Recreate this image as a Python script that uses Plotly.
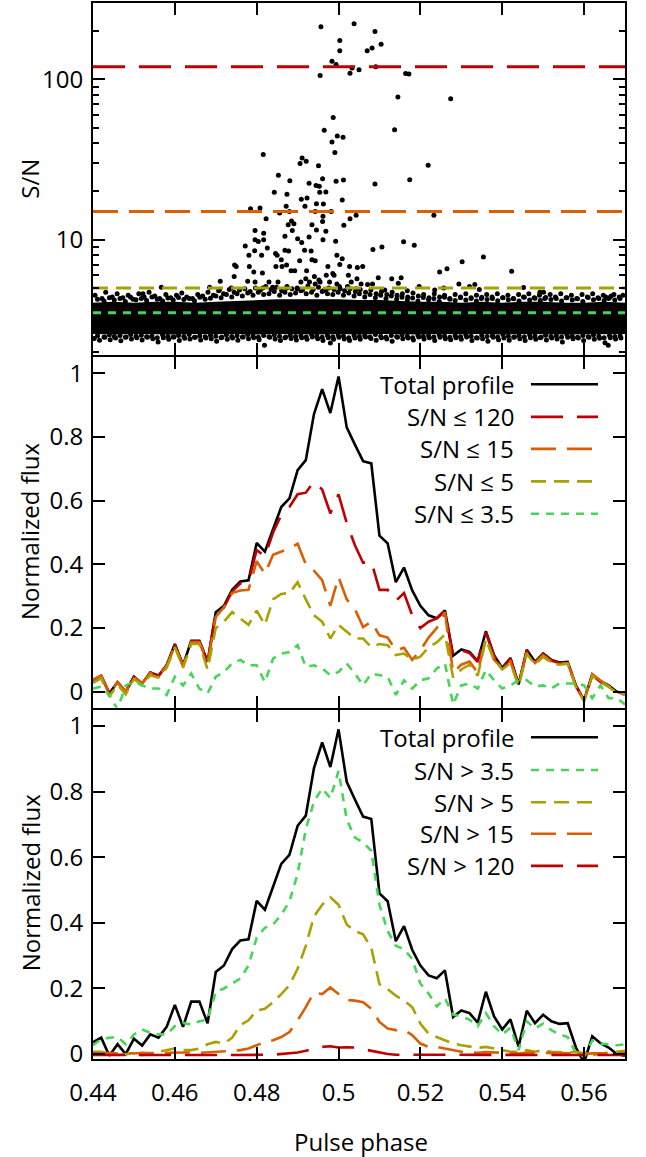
import math
import plotly.graph_objects as go

# ---------------- data ----------------
phase = [0.44, 0.442, 0.444, 0.446, 0.448, 0.45, 0.452, 0.454, 0.456, 0.458,
         0.46, 0.462, 0.464, 0.466, 0.468, 0.47, 0.472, 0.474, 0.476, 0.478,
         0.48, 0.482, 0.484, 0.486, 0.488, 0.49, 0.492, 0.494, 0.496, 0.498,
         0.5, 0.502, 0.504, 0.506, 0.508, 0.51, 0.512, 0.514, 0.516, 0.518,
         0.52, 0.522, 0.524, 0.526, 0.528, 0.53, 0.532, 0.534, 0.536, 0.538,
         0.54, 0.542, 0.544, 0.546, 0.548, 0.55, 0.552, 0.554, 0.556, 0.558,
         0.56, 0.562, 0.564, 0.566, 0.568, 0.57]

total_profile = [0.036, 0.05, -0.005, 0.03, 0.0, 0.047, 0.026, 0.06, 0.05, 0.083,
                 0.15, 0.083, 0.16, 0.16, 0.094, 0.25, 0.27, 0.32, 0.346, 0.35,
                 0.467, 0.44, 0.51, 0.58, 0.607, 0.696, 0.727, 0.872, 0.95, 0.875,
                 0.99, 0.83, 0.776, 0.724, 0.717, 0.49, 0.466, 0.344, 0.39, 0.318,
                 0.27, 0.24, 0.231, 0.255, 0.113, 0.133, 0.125, 0.096, 0.19, 0.115,
                 0.075, 0.106, 0.023, 0.132, 0.094, 0.12, 0.1, 0.092, 0.094, 0.02,
                 -0.026, 0.054, 0.033, 0.02, 0.0, -0.005]

sn_le_120 = [0.036, 0.05, -0.005, 0.03, 0.0, 0.047, 0.026, 0.06, 0.05, 0.083,
             0.148, 0.083, 0.158, 0.158, 0.094, 0.245, 0.265, 0.315, 0.34, 0.345,
             0.445, 0.425, 0.5, 0.555, 0.58, 0.62, 0.625, 0.66, 0.635, 0.56,
             0.62, 0.53, 0.46, 0.405, 0.41, 0.32, 0.32, 0.285, 0.31, 0.24,
             0.2, 0.22, 0.23, 0.255, 0.11, 0.13, 0.122, 0.094, 0.186, 0.112,
             0.072, 0.104, 0.02, 0.13, 0.092, 0.118, 0.098, 0.09, 0.092, 0.018,
             -0.028, 0.052, 0.031, 0.018, -0.002, -0.007]

sn_le_15 = [0.038, 0.05, -0.005, 0.03, 0.0, 0.045, 0.026, 0.058, 0.05, 0.08,
            0.145, 0.08, 0.155, 0.155, 0.092, 0.235, 0.265, 0.31, 0.318, 0.32,
            0.41, 0.37, 0.43, 0.44, 0.45, 0.465, 0.4, 0.38, 0.35, 0.27,
            0.36, 0.29, 0.26, 0.203, 0.22, 0.177, 0.17, 0.13, 0.138, 0.1,
            0.13, 0.17, 0.2, 0.25, 0.06, 0.085, 0.095, 0.06, 0.17, 0.1,
            0.075, 0.095, 0.02, 0.125, 0.09, 0.115, 0.095, 0.088, 0.09, 0.018,
            -0.028, 0.055, 0.035, 0.018, 0.0, -0.008]

sn_le_5 = [0.028, 0.042, -0.015, 0.022, -0.008, 0.04, 0.02, 0.052, 0.045, 0.075,
           0.14, 0.075, 0.15, 0.15, 0.07, 0.2, 0.22, 0.25, 0.23, 0.21,
           0.255, 0.21, 0.29, 0.307, 0.31, 0.344, 0.29, 0.24, 0.22, 0.167,
           0.21, 0.19, 0.167, 0.167, 0.14, 0.15, 0.146, 0.115, 0.12, 0.1,
           0.11, 0.14, 0.155, 0.18, 0.045, 0.07, 0.085, 0.05, 0.165, 0.1,
           0.07, 0.09, 0.018, 0.12, 0.085, 0.11, 0.09, 0.085, 0.088, 0.015,
           -0.03, 0.05, 0.03, 0.015, -0.003, -0.01]

sn_le_3p5 = [0.01, 0.016, -0.01, -0.055, 0.02, 0.03, 0.02, 0.01, 0.01, -0.01,
             0.047, 0.02, 0.057, 0.01, -0.005, 0.047, 0.062, 0.089, 0.1, 0.083,
             0.083, 0.03, 0.104, 0.12, 0.125, 0.146, 0.078, 0.083, 0.073, 0.052,
             0.062, 0.089, 0.057, 0.02, 0.057, 0.052, 0.047, -0.01, 0.036, 0.01,
             0.036, 0.042, 0.073, 0.089, -0.04, 0.02, 0.026, 0.01, 0.068, 0.036,
             0.01, 0.02, 0.036, 0.036, 0.016, 0.02, 0.01, 0.026, 0.026, 0.026,
             0.02, -0.02, 0.02, -0.02, -0.02, -0.04]

sn_gt_3p5 = [0.027, 0.045, 0.05, 0.052, 0.03, 0.06, 0.075, 0.065, 0.06, 0.06,
             0.085, 0.095, 0.09, 0.1, 0.105, 0.19, 0.2, 0.215, 0.23, 0.27,
             0.355, 0.385, 0.395, 0.425, 0.465, 0.55, 0.685, 0.77, 0.81, 0.78,
             0.863, 0.715, 0.66, 0.645, 0.62, 0.455, 0.375, 0.33, 0.32, 0.29,
             0.215, 0.185, 0.145, 0.17, 0.12, 0.115, 0.105, 0.085, 0.125, 0.085,
             0.06, 0.08, 0.012, 0.1, 0.078, 0.093, 0.073, 0.06, 0.052, 0.002,
             -0.008, 0.042, 0.032, 0.03, 0.027, 0.03]

sn_gt_5 = [0.007, 0.007, 0.0, -0.003, 0.0, 0.002, -0.003, 0.002, 0.005, 0.012,
           0.017, 0.012, 0.012, 0.017, 0.03, 0.037, 0.032, 0.05, 0.088, 0.103,
           0.133, 0.138, 0.158, 0.183, 0.21, 0.26, 0.33, 0.42, 0.455, 0.478,
           0.455, 0.395, 0.375, 0.365, 0.324, 0.213, 0.198, 0.178, 0.163, 0.143,
           0.093, 0.062, 0.052, 0.042, 0.032, 0.027, 0.022, 0.019, 0.022, 0.017,
           0.012, 0.007, 0.007, 0.012, 0.007, 0.012, 0.007, 0.005, 0.005, 0.007,
           0.002, -0.003, 0.0, 0.005, 0.007, 0.01]

sn_gt_15 = [0.003, 0.002, 0.004, 0.002, 0.003, 0.002, 0.004, 0.003, 0.002, 0.004,
            0.005, 0.004, 0.005, 0.004, 0.005, 0.006, 0.008, 0.01, 0.012, 0.017,
            0.027, 0.037, 0.042, 0.052, 0.067, 0.103, 0.143, 0.188, 0.183, 0.203,
            0.183, 0.165, 0.163, 0.158, 0.138, 0.098, 0.078, 0.073, 0.073, 0.058,
            0.032, 0.022, 0.022, 0.017, 0.012, 0.007, 0.005, 0.004, 0.006, 0.005,
            0.003, 0.004, 0.002, 0.005, 0.004, 0.003, 0.004, 0.003, 0.002, 0.002,
            0.0, 0.002, 0.003, 0.004, 0.003, 0.003]

sn_gt_120 = [-0.003, -0.002, -0.003, -0.003, -0.002, -0.003, -0.003, -0.002, -0.003, -0.003,
             -0.002, -0.003, -0.003, -0.002, -0.003, -0.003, -0.002, -0.003, -0.003, -0.002,
             -0.003, -0.002, -0.002, 0.0, 0.002, 0.005, 0.01, 0.015, 0.022, 0.024,
             0.02, 0.021, 0.02, 0.015, 0.01, 0.005, 0.0, -0.002, -0.002, -0.003,
             -0.002, -0.003, -0.002, -0.002, -0.003, -0.002, -0.002, -0.003, -0.002, -0.002,
             -0.003, -0.002, -0.002, -0.003, -0.002, -0.002, -0.003, -0.002, -0.002, -0.003,
             -0.002, -0.002, -0.003, -0.002, -0.002, -0.003]

thresholds = [120, 15, 5, 3.5]

# dense single-pulse band (solid core of the scatter), envelope
band_phase = [0.44, 0.445, 0.45, 0.455, 0.46, 0.465, 0.47, 0.475, 0.48, 0.485,
              0.49, 0.495, 0.5, 0.505, 0.51, 0.515, 0.52, 0.525, 0.53, 0.535,
              0.54, 0.545, 0.55, 0.555, 0.56, 0.565, 0.57]
band_upper = [4.05, 4.1, 4.05, 4.1, 4.1, 4.05, 4.1, 4.15, 4.2, 4.25,
              4.25, 4.25, 4.25, 4.2, 4.2, 4.15, 4.1, 4.1, 4.05, 4.1,
              4.05, 4.1, 4.1, 4.05, 4.05, 4.1, 4.05]
band_lower = [2.58, 2.56, 2.58, 2.57, 2.56, 2.58, 2.57, 2.58, 2.56, 2.58,
              2.57, 2.56, 2.58, 2.56, 2.58, 2.57, 2.56, 2.58, 2.57, 2.58,
              2.56, 2.58, 2.57, 2.56, 2.58, 2.57, 2.58]

# single pulses along the ragged upper edge of the band (inner row)
upper_inner_phase = [0.4411, 0.4427, 0.444, 0.4452, 0.4466, 0.4479, 0.4492, 0.4505, 0.4518, 0.4531,
                     0.4544, 0.4557, 0.457, 0.4583, 0.4596, 0.4609, 0.4622, 0.4635, 0.4648, 0.4661,
                     0.4674, 0.4687, 0.47, 0.4713, 0.4726, 0.4739, 0.4752, 0.4765, 0.4778, 0.4791,
                     0.4804, 0.4817, 0.483, 0.4843, 0.4856, 0.4869, 0.4882, 0.4895, 0.4908, 0.4921,
                     0.4934, 0.4947, 0.496, 0.4973, 0.4986, 0.4999, 0.5012, 0.5025, 0.5038, 0.5051,
                     0.5064, 0.5077, 0.509, 0.5103, 0.5116, 0.5129, 0.5142, 0.5155, 0.5168, 0.5181,
                     0.5194, 0.5207, 0.522, 0.5233, 0.5246, 0.5259, 0.5272, 0.5285, 0.5298, 0.5311,
                     0.5324, 0.5337, 0.535, 0.5363, 0.5376, 0.5389, 0.5402, 0.5415, 0.5428, 0.5441,
                     0.5454, 0.5467, 0.548, 0.5493, 0.5506, 0.5519, 0.5532, 0.5545, 0.5558, 0.5571,
                     0.5584, 0.5597, 0.561, 0.5623, 0.5636, 0.5649, 0.5662, 0.5675, 0.5688]
upper_inner_sn = [4.25, 4.15, 4.35, 4.2, 4.3, 4.12, 4.38, 4.22, 4.3, 4.18,
                  4.4, 4.25, 4.15, 4.33, 4.2, 4.36, 4.24, 4.3, 4.16, 4.38,
                  4.26, 4.32, 4.45, 4.35, 4.55, 4.4, 4.6, 4.45, 4.65, 4.5,
                  4.7, 4.55, 4.6, 4.75, 4.5, 4.7, 4.55, 4.65, 4.8, 4.6,
                  4.7, 4.5, 4.75, 4.6, 4.55, 4.7, 4.5, 4.65, 4.45, 4.6,
                  4.4, 4.55, 4.35, 4.5, 4.3, 4.45, 4.25, 4.38, 4.2, 4.33,
                  4.15, 4.36, 4.22, 4.3, 4.12, 4.38, 4.25, 4.18, 4.34, 4.2,
                  4.3, 4.15, 4.37, 4.24, 4.3, 4.16, 4.35, 4.22, 4.28, 4.14,
                  4.38, 4.2, 4.32, 4.18, 4.36, 4.24, 4.3, 4.15, 4.35, 4.2,
                  4.28, 4.12, 4.36, 4.22, 4.3, 4.18, 4.34, 4.2, 4.3]

# single pulses at the outer upper fringe of the band
upper_fringe_phase = [0.4405, 0.4422, 0.4431, 0.4447, 0.4459, 0.4473, 0.4486, 0.4498, 0.4512, 0.4525,
                      0.4537, 0.4551, 0.4563, 0.4578, 0.459, 0.4604, 0.4617, 0.4629, 0.4643, 0.4656,
                      0.4668, 0.4681, 0.4694, 0.4707, 0.4719, 0.4733, 0.4745, 0.4758, 0.4771, 0.4784,
                      0.4797, 0.4809, 0.4822, 0.4835, 0.4848, 0.4861, 0.4874, 0.4886, 0.4899, 0.4912,
                      0.4925, 0.4938, 0.4951, 0.4963, 0.4976, 0.4989, 0.5002, 0.5015, 0.5028, 0.5041,
                      0.5053, 0.5066, 0.5079, 0.5092, 0.5105, 0.5118, 0.5131, 0.5143, 0.5156, 0.5169,
                      0.5182, 0.5195, 0.5208, 0.5221, 0.5234, 0.5247, 0.5259, 0.5272, 0.5285, 0.5298,
                      0.5311, 0.5324, 0.5337, 0.5349, 0.5362, 0.5375, 0.5388, 0.5401, 0.5414, 0.5427,
                      0.544, 0.5452, 0.5465, 0.5478, 0.5491, 0.5504, 0.5517, 0.553, 0.5543, 0.5556,
                      0.5569, 0.5582, 0.5595, 0.5608, 0.5621, 0.5634, 0.5647, 0.566, 0.5673, 0.5686,
                      0.5695]
upper_fringe_sn = [4.5, 4.3, 4.7, 4.4, 4.6, 4.35, 4.5, 4.25, 4.6, 4.4,
                   4.7, 4.45, 4.3, 4.55, 4.35, 4.5, 4.65, 4.4, 4.3, 4.55,
                   4.45, 4.7, 4.5, 4.8, 4.6, 4.9, 4.7, 4.85, 4.95, 4.75,
                   5.0, 4.85, 5.1, 4.9, 5.05, 4.8, 5.1, 4.95, 5.0, 4.85,
                   5.15, 4.9, 5.05, 4.8, 5.0, 4.9, 5.1, 4.8, 4.95, 4.75,
                   4.9, 4.7, 4.85, 4.6, 4.75, 4.55, 4.7, 4.5, 4.6, 4.4,
                   4.65, 4.45, 4.55, 4.35, 4.6, 4.4, 4.5, 4.3, 4.55, 4.4,
                   4.6, 4.35, 4.5, 4.3, 4.55, 4.4, 4.6, 4.35, 4.5, 4.3,
                   4.55, 4.4, 4.6, 4.35, 4.5, 4.3, 4.55, 4.4, 4.6, 4.35,
                   4.5, 4.3, 4.55, 4.4, 4.6, 4.35, 4.5, 4.3, 4.55, 4.4,
                   4.5]

# single pulses along the ragged lower edge of the band (inner row)
lower_inner_sn = [2.52, 2.47, 2.55, 2.49, 2.53, 2.46, 2.56, 2.5, 2.54, 2.48,
                  2.51, 2.45, 2.55, 2.5, 2.47, 2.53, 2.49, 2.56, 2.46, 2.52,
                  2.48, 2.54, 2.5, 2.45, 2.55, 2.49, 2.52, 2.47, 2.56, 2.51,
                  2.46, 2.53, 2.48, 2.55, 2.5, 2.45, 2.54, 2.49, 2.52, 2.47,
                  2.56, 2.5, 2.46, 2.53, 2.48, 2.55, 2.51, 2.45, 2.54, 2.49,
                  2.52, 2.47, 2.56, 2.5, 2.46, 2.53, 2.48, 2.55, 2.5, 2.45,
                  2.54, 2.49, 2.52, 2.47, 2.56, 2.51, 2.46, 2.53, 2.48, 2.55,
                  2.5, 2.45, 2.54, 2.49, 2.52, 2.47, 2.56, 2.5, 2.46, 2.53,
                  2.48, 2.55, 2.51, 2.45, 2.54, 2.49, 2.52, 2.47, 2.56, 2.5,
                  2.46, 2.53, 2.48, 2.55, 2.5, 2.45, 2.54, 2.49, 2.52]

# single pulses at the outer lower fringe of the band
lower_fringe_phase = [0.4403, 0.4416, 0.4429, 0.4442, 0.4455, 0.4468, 0.4481, 0.4494, 0.4507, 0.452,
                      0.4533, 0.4546, 0.4559, 0.4572, 0.4585, 0.4598, 0.4611, 0.4624, 0.4637, 0.465,
                      0.4663, 0.4676, 0.4689, 0.4702, 0.4715, 0.4728, 0.4741, 0.4754, 0.4767, 0.478,
                      0.4793, 0.4806, 0.4819, 0.4832, 0.4845, 0.4858, 0.4871, 0.4884, 0.4897, 0.491,
                      0.4923, 0.4936, 0.4949, 0.4962, 0.4975, 0.498, 0.4988, 0.5001, 0.5014, 0.5027,
                      0.504, 0.5053, 0.5066, 0.5079, 0.5092, 0.5105, 0.5118, 0.5131, 0.5144, 0.5157,
                      0.517, 0.5183, 0.5196, 0.5209, 0.5222, 0.5235, 0.5248, 0.5261, 0.5274, 0.5287,
                      0.53, 0.5313, 0.5326, 0.5339, 0.5352, 0.5365, 0.5378, 0.5391, 0.5404, 0.5417,
                      0.543, 0.5443, 0.5456, 0.5469, 0.5482, 0.5495, 0.5508, 0.5521, 0.5534, 0.5547,
                      0.556, 0.5573, 0.5586, 0.5599, 0.5612, 0.5625, 0.5638, 0.5651, 0.5659, 0.5664,
                      0.5677, 0.569]
lower_fringe_sn = [2.42, 2.36, 2.46, 2.38, 2.44, 2.34, 2.47, 2.4, 2.45, 2.37,
                   2.46, 2.41, 2.3, 2.45, 2.39, 2.47, 2.35, 2.43, 2.4, 2.46,
                   2.37, 2.44, 2.41, 2.33, 2.46, 2.39, 2.44, 2.36, 2.47, 2.41,
                   2.45, 2.38, 2.2, 2.46, 2.4, 2.35, 2.47, 2.42, 2.37, 2.45,
                   2.39, 2.47, 2.41, 2.35, 2.45, 2.27, 2.39, 2.46, 2.4, 2.35,
                   2.44, 2.39, 2.47, 2.42, 2.36, 2.45, 2.4, 2.33, 2.46, 2.41,
                   2.44, 2.37, 2.47, 2.4, 2.45, 2.35, 2.46, 2.41, 2.38, 2.45,
                   2.39, 2.47, 2.35, 2.44, 2.41, 2.33, 2.46, 2.38, 2.44, 2.36,
                   2.47, 2.41, 2.35, 2.45, 2.39, 2.46, 2.37, 2.44, 2.4, 2.3,
                   2.46, 2.41, 2.44, 2.35, 2.46, 2.39, 2.43, 2.28, 2.2, 2.45,
                   2.4, 2.44]

# bright single pulses above the band
pulse_phase = [0.4957, 0.5038, 0.5089, 0.5003, 0.5003, 0.507, 0.5082, 0.5104, 0.4984, 0.4994,
               0.5033, 0.505, 0.4955, 0.5028, 0.5091, 0.5164, 0.5172, 0.5145, 0.5274, 0.4987,
               0.4965, 0.4997, 0.5011, 0.4984, 0.4991, 0.5137, 0.4816, 0.4911, 0.4921, 0.4906,
               0.4951, 0.5219, 0.4853, 0.4881, 0.4961, 0.4994, 0.5012, 0.5174, 0.5089, 0.4928,
               0.4945, 0.4953, 0.4843, 0.4874, 0.4954, 0.4969, 0.4909, 0.4923, 0.5009, 0.4946,
               0.4963, 0.4872, 0.4918, 0.4785, 0.4808, 0.4856, 0.488, 0.4943, 0.4982, 0.5233,
               0.5043, 0.5028, 0.4823, 0.4962, 0.4961, 0.4885, 0.4877, 0.4891, 0.4935, 0.5013,
               0.4796, 0.4817, 0.4887, 0.4946, 0.4969, 0.49, 0.4928, 0.4869, 0.4962, 0.4993,
               0.4796, 0.4817, 0.4804, 0.5159, 0.5185, 0.4772, 0.4826, 0.4795, 0.4869, 0.491,
               0.4917, 0.4933, 0.5084, 0.5106, 0.4846, 0.4781, 0.4812, 0.485, 0.4878, 0.4905,
               0.4935, 0.4996, 0.5009, 0.486, 0.4943, 0.5354, 0.5302, 0.4746, 0.475, 0.4782,
               0.4847, 0.4862, 0.4873, 0.4884, 0.4893, 0.4922, 0.4974, 0.4986, 0.4989, 0.5003,
               0.5027, 0.5046, 0.5059, 0.5265, 0.5247, 0.5423, 0.4745, 0.4793, 0.4814, 0.4941,
               0.4952, 0.497, 0.5024, 0.5045, 0.5097, 0.513, 0.5153, 0.4711, 0.4778, 0.4796,
               0.483, 0.4852, 0.4908, 0.492, 0.4929, 0.4943, 0.4955, 0.4978, 0.4996, 0.5031,
               0.5055, 0.5071, 0.5146, 0.5294, 0.5333, 0.5452, 0.4567, 0.4685, 0.5197, 0.532,
               0.5344, 0.4522, 0.5083, 0.4709, 0.4738, 0.4815, 0.4839, 0.4873, 0.4899, 0.4969,
               0.5004, 0.5022, 0.5043, 0.5113, 0.5168, 0.5235, 0.5257, 0.5492, 0.5501, 0.5653,
               0.5666]
pulse_sn = [213, 223, 199, 175, 151, 151, 157, 166, 130, 124,
            118, 115, 106, 109.5, 120, 109, 108, 77.6, 75.8, 58,
            48.2, 44.4, 43.6, 40.7, 35, 48.6, 34, 32.4, 30.9, 29.9,
            28.9, 29.2, 25.3, 23.3, 24, 23.2, 23.6, 23.7, 22.3, 22.5,
            21.8, 21.6, 19.8, 19.25, 19.8, 19.85, 17.9, 18.2, 17.7, 16.8,
            16.7, 16.2, 16.2, 15.6, 15.8, 14.7, 15, 15, 15, 14.2,
            14.2, 13.5, 13.5, 14, 13, 13.1, 12.4, 12.6, 12.4, 12.3,
            11.4, 10.96, 11.4, 11.5, 11.3, 10.15, 10.4, 10.5, 10, 9.8,
            10, 10, 9.75, 9.7, 9.25, 9.14, 8.88, 8.55, 8.6, 9.6,
            8.6, 8.5, 8.7, 9.0, 8.2, 8.0, 8.0, 8.0, 8.5, 7.4,
            7.5, 8.0, 7.6, 7.5, 7.4, 7.8, 7.3, 6.96, 6.8, 6.8,
            6.8, 6.8, 6.95, 6.4, 6.4, 6.4, 6.8, 6.15, 6.0, 7.0,
            6.8, 6.7, 6.8, 6.6, 6.3, 6.35, 5.9, 6.3, 6.2, 5.9,
            5.6, 6.0, 6.0, 5.7, 5.8, 5.7, 5.8, 5.5, 5.5, 5.45,
            5.45, 5.45, 5.45, 5.7, 5.45, 5.3, 5.45, 5.45, 5.3, 5.45,
            5.3, 5.25, 5.35, 5.3, 5.25, 5.03, 5.05, 5.05, 5.1, 5.1,
            4.9, 4.6, 5.3, 4.85, 5.0, 5.0, 5.05, 5.0, 4.95, 4.9,
            4.95, 5.1, 4.95, 4.85, 4.8, 4.85, 5.0, 4.7, 4.7, 4.4,
            4.45]

x_ticks = [0.44, 0.46, 0.48, 0.5, 0.52, 0.54, 0.56]
x_tick_labels = ["0.44", "0.46", "0.48", "0.5", "0.52", "0.54", "0.56"]
flux_ticks = [0, 0.2, 0.4, 0.6, 0.8, 1]
flux_tick_labels = ["0", "0.2", "0.4", "0.6", "0.8", "1"]
sn_ticks = [10, 100]
sn_minor_ticks = [2, 3, 4, 5, 6, 7, 8, 9, 20, 30, 40, 50, 60, 70, 80, 90, 200, 300]

mid_labels = ["Total profile", "S/N \u2264 120", "S/N \u2264 15", "S/N \u2264 5", "S/N \u2264 3.5"]
bot_labels = ["Total profile", "S/N > 3.5", "S/N > 5", "S/N > 15", "S/N > 120"]

# ---------------- styles ----------------
BLACK = "#000000"
RED = "#c00000"
ORANGE = "#d95f02"
OLIVE = "#a8a200"
GREEN = "#48d458"
DASH_RED = "32px,14px"
DASH_ORANGE = "25px,11px"
DASH_OLIVE = "15px,8px"
DASH_GREEN = "8px,7px"
FONT = "Open Sans"

W, H = 646, 1157
L, R, T, B = 93, 21, 1, 98
PW, PH = W - L - R, H - T - B


def px_x(px):
    return (px - L) / PW


def px_y(py):
    return (H - B - py) / PH


# panel boundaries: adjacent frame lines overlap on the shared edge
top_dom = [px_y(354), 1.0]
mid_dom = [px_y(707), px_y(356)]
bot_dom = [0.0, px_y(709)]

fig = go.Figure()

# ---- top panel ----
fig.add_trace(go.Scatter(
    x=band_phase + band_phase[::-1], y=band_upper + band_lower[::-1],
    fill="toself", fillcolor=BLACK, mode="lines", line=dict(width=0, color=BLACK),
    xaxis="x", yaxis="y", hoverinfo="skip"))
for xs, ys in [(upper_inner_phase, upper_inner_sn), (upper_fringe_phase, upper_fringe_sn),
               (upper_inner_phase, lower_inner_sn), (lower_fringe_phase, lower_fringe_sn),
               (pulse_phase, pulse_sn)]:
    fig.add_trace(go.Scatter(x=xs, y=ys, mode="markers",
                             marker=dict(size=5, color=BLACK, line=dict(width=0)),
                             xaxis="x", yaxis="y"))
for thr, col, dash in zip(thresholds, [RED, ORANGE, OLIVE, GREEN],
                          [DASH_RED, DASH_ORANGE, DASH_OLIVE, DASH_GREEN]):
    fig.add_trace(go.Scatter(x=[phase[0], phase[-1]], y=[thr, thr], mode="lines",
                             line=dict(color=col, width=3, dash=dash),
                             xaxis="x", yaxis="y"))

# ---- middle panel ----
mid_series = [(total_profile, BLACK, "solid"), (sn_le_120, RED, DASH_RED),
              (sn_le_15, ORANGE, DASH_ORANGE), (sn_le_5, OLIVE, DASH_OLIVE),
              (sn_le_3p5, GREEN, DASH_GREEN)]
for ys, col, dash in mid_series:
    fig.add_trace(go.Scatter(x=phase, y=ys, mode="lines",
                             line=dict(color=col, width=2.6, dash=dash),
                             xaxis="x2", yaxis="y2"))

# ---- bottom panel ----
bot_series = [(total_profile, BLACK, "solid"), (sn_gt_3p5, GREEN, DASH_GREEN),
              (sn_gt_5, OLIVE, DASH_OLIVE), (sn_gt_15, ORANGE, DASH_ORANGE),
              (sn_gt_120, RED, DASH_RED)]
for ys, col, dash in bot_series:
    fig.add_trace(go.Scatter(x=phase, y=ys, mode="lines",
                             line=dict(color=col, width=2.6, dash=dash),
                             xaxis="x3", yaxis="y3"))

axis_common = dict(showline=True, linecolor=BLACK, linewidth=2, mirror="allticks",
                   ticks="inside", ticklen=12, tickwidth=1.5, tickcolor=BLACK,
                   showgrid=False, zeroline=False,
                   tickfont=dict(family=FONT, size=24, color=BLACK))

xcommon = dict(axis_common, range=[0.44, 0.57], tickmode="array", tickvals=x_ticks,
               ticktext=x_tick_labels, domain=[0, 1])

fig.update_layout(
    width=W, height=H,
    margin=dict(l=L, r=R, t=T, b=B),
    plot_bgcolor="white", paper_bgcolor="white",
    showlegend=False,
    font=dict(family=FONT, size=24, color=BLACK),
    xaxis=dict(xcommon, anchor="y", showticklabels=False),
    xaxis2=dict(xcommon, anchor="y2", showticklabels=False),
    xaxis3=dict(xcommon, anchor="y3", showticklabels=True, ticklabelstandoff=11),
    yaxis=dict(axis_common, type="log", domain=top_dom, anchor="x",
               range=[math.log10(1.9), math.log10(300)],
               tickmode="array", tickvals=sn_ticks, ticktext=["10", "100"],
               ticklabelstandoff=3,
               minor=dict(tickmode="array", tickvals=sn_minor_ticks, ticks="inside",
                          ticklen=6, tickwidth=1.5, tickcolor=BLACK)),
    yaxis2=dict(axis_common, domain=mid_dom, anchor="x2", range=[-0.05, 1.05],
                tickmode="array", tickvals=flux_ticks, ticktext=flux_tick_labels,
                ticklabelstandoff=3),
    yaxis3=dict(axis_common, domain=bot_dom, anchor="x3", range=[-0.015, 1.05],
                tickmode="array", tickvals=flux_ticks, ticktext=flux_tick_labels,
                ticklabelstandoff=3),
)

annotations = []
shapes = []
title_font = dict(size=24, family=FONT, color=BLACK)
# axis titles
annotations.append(dict(text="S/N", x=px_x(30), y=px_y(177), xref="paper", yref="paper",
                        xanchor="center", yanchor="middle",
                        textangle=-90, showarrow=False, font=title_font))
for cy in (531, 883):
    annotations.append(dict(text="Normalized flux", x=px_x(30), y=px_y(cy), xref="paper",
                            yref="paper", xanchor="center", yanchor="middle",
                            textangle=-90, showarrow=False, font=title_font))
annotations.append(dict(text="Pulse phase", x=px_x(361), y=px_y(1142), xref="paper",
                        yref="paper", xanchor="center", yanchor="middle",
                        showarrow=False, font=title_font))

# legends (text right-aligned, sample to the right, gnuplot style)
mid_rows = [383, 415.7, 447.7, 480.3, 512.7]
bot_rows = [736.7, 769.5, 801.7, 833.3, 865.5]
for labels, rows, series in [(mid_labels, mid_rows, mid_series), (bot_labels, bot_rows, bot_series)]:
    for lab, ry, (_, col, dash) in zip(labels, rows, series):
        annotations.append(dict(text=lab, x=px_x(516), y=px_y(ry), xref="paper", yref="paper",
                                xanchor="right", yanchor="middle", showarrow=False,
                                font=title_font))
        shapes.append(dict(type="line", xref="paper", yref="paper",
                           x0=px_x(531), x1=px_x(598), y0=px_y(ry), y1=px_y(ry),
                           line=dict(color=col, width=2.6, dash=dash)))

fig.update_layout(annotations=annotations, shapes=shapes)
fig.write_html("out.html", config={"displayModeBar": False},
               post_script="document.body.style.margin='0px';document.body.style.overflow='hidden';")
